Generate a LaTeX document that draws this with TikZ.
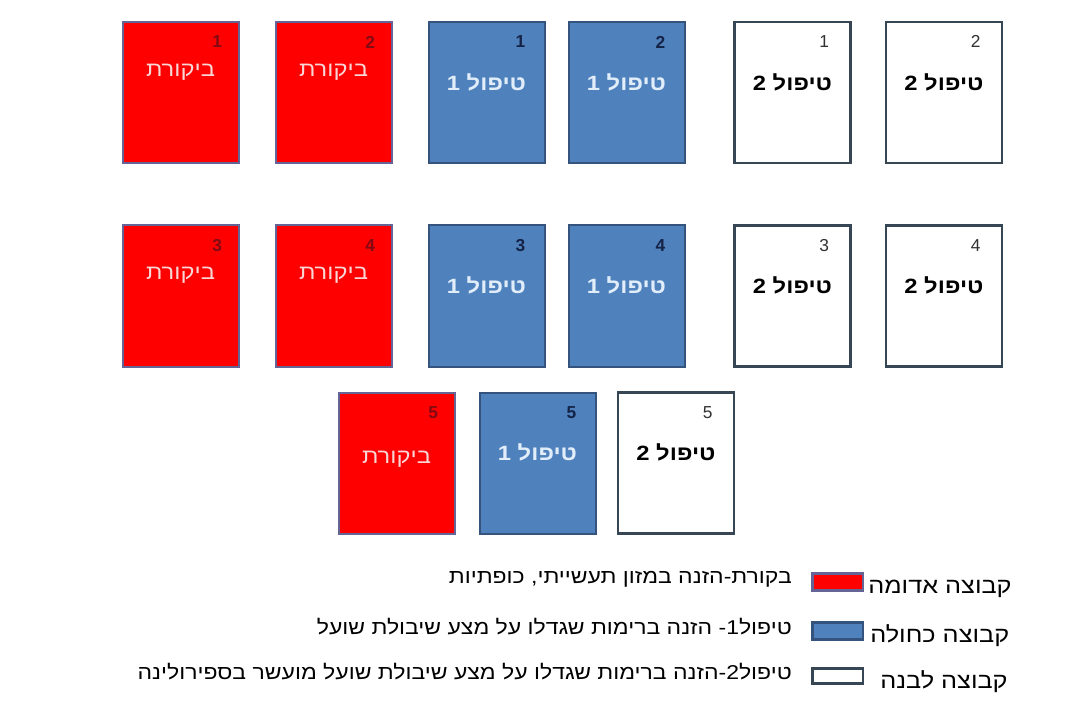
\documentclass[tikz,border=0pt]{standalone}
\usepackage{fontspec}
\setmainfont{Liberation Sans}
\newfontfamily\hebfont[Script=Hebrew]{Liberation Sans}
\newfontfamily\hebwide[Script=Hebrew, FakeStretch=1.15]{Liberation Sans}
\TeXXeTstate=1
\usetikzlibrary{positioning}

\definecolor{grpred}{RGB}{255,0,0}
\definecolor{rededge}{RGB}{100,100,150}
\definecolor{rednum}{RGB}{130,10,20}
\definecolor{redtag}{RGB}{250,215,215}
\definecolor{grpblue}{RGB}{79,129,189}
\definecolor{blueedge}{RGB}{52,84,126}
\definecolor{bluenum}{RGB}{20,35,70}
\definecolor{bluetag}{RGB}{225,238,250}
\definecolor{whiteedge}{RGB}{55,70,85}
\definecolor{whitenum}{RGB}{50,50,50}

\begin{document}
\begin{tikzpicture}[
    x=0.75pt, y=-0.75pt,
    group/.style = {rectangle, minimum width=87pt, minimum height=105.75pt, inner sep=0pt, line width=1.5pt},
    redbox/.style = {group, fill=grpred, draw=rededge},
    bluebox/.style = {group, fill=grpblue, draw=blueedge},
    whitebox/.style = {group, fill=white, draw=whiteedge, line width=2pt},
    num/.style = {font=\fontsize{13}{13}\selectfont, inner sep=0pt},
    boldnum/.style = {font=\bfseries\fontsize{13}{13}\selectfont, inner sep=0pt},
    tag/.style = {font=\hebwide\fontsize{15.5}{15.5}\selectfont, inner sep=0pt},
    boldtag/.style = {font=\hebwide\bfseries\fontsize{15.5}{15.5}\selectfont, inner sep=0pt},
    swatch/.style = {rectangle, minimum width=38pt, minimum height=13pt, inner sep=0pt, line width=2pt},
    key/.style = {font=\hebwide\fontsize{16.5}{16.5}\selectfont, anchor=west, inner sep=0pt},
    desc/.style = {font=\hebwide\fontsize{15}{15}\selectfont, anchor=east, inner sep=0pt}
]
    \useasboundingbox[fill=white] (0,0) rectangle (1065,706);

    % control groups
    \foreach \n/\x/\y/\d in {1/180.5/92.5/20.5, 2/333.5/92.5/20.5, 3/180.5/296/20.5, 4/333.5/296/20.5, 5/396.5/463/4} {
        \node[redbox] (red\n) at (\x,\y) {};
        \node[boldnum, text=rednum, below left=11pt and 13pt of red\n.north east] (rednum\n) {\n};
        \node[tag, text=redtag] (redtag\n) at (\x,\y-\d) {\beginR ביקורת\endR};
    }

    % treatment 1 groups
    \foreach \n/\x/\y in {1/486.5/92.5, 2/626.5/92.5, 3/486.5/296, 4/626.5/296, 5/537.5/463} {
        \node[bluebox] (blue\n) at (\x,\y) {};
        \node[boldnum, text=bluenum, below left=11pt and 15pt of blue\n.north east] (bluenum\n) {\n};
        \node[boldtag, text=bluetag] (bluetag\n) at (\x,\y-10.5) {\beginR טיפול 1\endR};
    }

    % treatment 2 groups
    \foreach \n/\x/\y in {1/792.5/92.5, 2/944/92.5, 3/792.5/296, 4/944/296, 5/676/463} {
        \node[whitebox] (white\n) at (\x,\y) {};
        \node[num, text=whitenum, below left=11pt and 17pt of white\n.north east] (whitenum\n) {\n};
        \node[boldtag, text=black] (whitetag\n) at (\x,\y-10.5) {\beginR טיפול 2\endR};
    }

    % legend
    \node[swatch, fill=grpred, draw=rededge] (keyred) at (837.5,582) {};
    \node[swatch, fill=grpblue, draw=blueedge] (keyblue) at (837.5,631) {};
    \node[swatch, fill=white, draw=whiteedge, minimum height=11pt] (keywhite) at (837.5,676) {};

    \node[key] (labred) at (868,589) {\beginR קבוצה אדומה\endR};
    \node[key] (labblue) at (870,636) {\beginR קבוצה כחולה\endR};
    \node[key] (labwhite) at (880,682) {\beginR קבוצה לבנה\endR};

    \node[desc] (descred) at (792,579) {\beginR בקורת-הזנה במזון תעשייתי, כופתיות\endR};
    \node[desc] (descblue) at (792,627) {\beginR טיפול1- הזנה ברימות שגדלו על מצע שיבולת שועל\endR};
    \node[desc] (descwhite) at (792,672) {\beginR טיפול2-הזנה ברימות שגדלו על מצע שיבולת שועל מועשר בספירולינה\endR};
\end{tikzpicture}
\end{document}
